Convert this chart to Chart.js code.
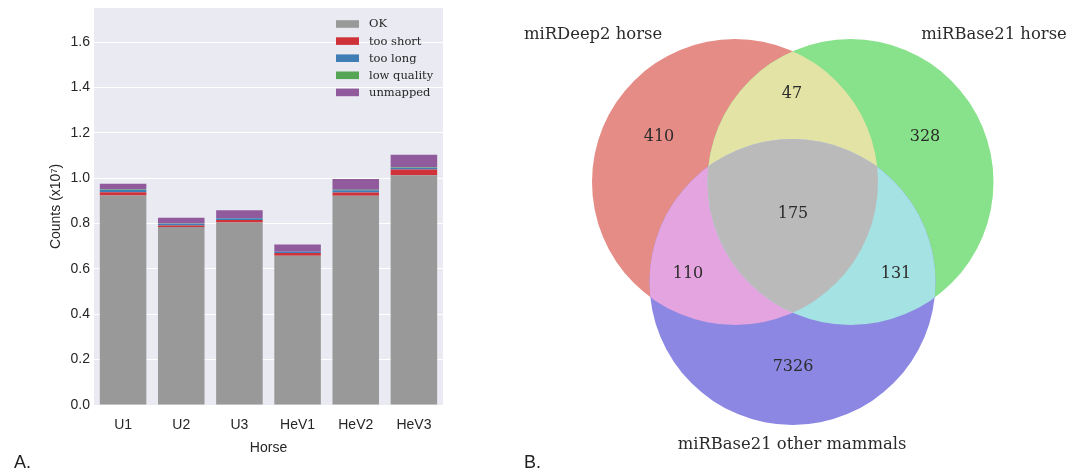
<html>
<head>
<style>
body { margin: 0; background: #fff; width: 1083px; height: 475px; position: relative; overflow: hidden; }
canvas { position: absolute; top: 0; }
.panel { position: absolute; font-family: "Liberation Sans", sans-serif; font-size: 18px; color: #222; }
</style>
</head>
<body>
<script src="https://cdn.jsdelivr.net/npm/chart.js@4/dist/chart.umd.min.js"></script>
<canvas id="barChart" width="460" height="475" style="left:0"></canvas>
<canvas id="vennChart" width="583" height="475" style="left:500px"></canvas>
<div class="panel" style="left:14px; top:452px">A.</div>
<div class="panel" style="left:524px; top:452px">B.</div>
<script>
// panel A: read counts per horse (x10^7)
const horses = ['U1', 'U2', 'U3', 'HeV1', 'HeV2', 'HeV3'];
const okCounts = [0.924, 0.785, 0.805, 0.658, 0.922, 1.013];
const tooShort = [0.014, 0.006, 0.011, 0.012, 0.015, 0.025];
const tooLong = [0.011, 0.008, 0.007, 0.005, 0.010, 0.008];
const lowQuality = [0.002, 0.001, 0.001, 0.001, 0.002, 0.002];
const unmapped = [0.024, 0.025, 0.034, 0.032, 0.047, 0.055];

// panel B: venn counts
const vennSets = ['miRDeep2 horse', 'miRBase21 horse', 'miRBase21 other mammals'];
const vennRegions = ['A', 'B', 'AB', 'C', 'AC', 'BC', 'ABC'];
const vennCounts = [410, 328, 47, 7326, 110, 131, 175];

const sansFont = '"Liberation Sans", Arial, sans-serif';
const serifFont = '"DejaVu Serif", serif';

let bgPlugin = {
    id: 'bg',
    beforeDraw(chart) {
        let a = chart.chartArea, ctx = chart.ctx;
        ctx.save();
        ctx.fillStyle = '#eaeaf2';
        ctx.fillRect(a.left, a.top, a.right - a.left, a.bottom - a.top);
        ctx.restore();
    }
};

// legend drawn inside the plot, top right
let boxLegend = {
    id: 'boxLegend',
    afterDraw(chart) {
        let ctx = chart.ctx;
        ctx.save();
        ctx.font = '11.5px ' + serifFont;
        ctx.textBaseline = 'middle';
        chart.data.datasets.forEach((ds, i) => {
            let y = 24 + i * 17.1;
            ctx.fillStyle = ds.backgroundColor;
            ctx.fillRect(336, y - 3.8, 23, 7.6);
            ctx.fillStyle = '#262626';
            ctx.fillText(ds.label, 369, y + 0.5);
        });
        ctx.restore();
    }
};

new Chart(document.getElementById('barChart'), {
    type: 'bar',
    data: {
        labels: horses,
        datasets: [
            { label: 'OK', data: okCounts, backgroundColor: '#999999' },
            { label: 'too short', data: tooShort, backgroundColor: '#cf3339' },
            { label: 'too long', data: tooLong, backgroundColor: '#3f7eb4' },
            { label: 'low quality', data: lowQuality, backgroundColor: '#56a456' },
            { label: 'unmapped', data: unmapped, backgroundColor: '#915a9c' }
        ]
    },
    options: {
        responsive: false,
        animation: false,
        barPercentage: 0.8,
        categoryPercentage: 1.0,
        layout: { padding: { top: 8, right: 17, bottom: 10, left: 0 } },
        plugins: { legend: { display: false }, tooltip: { enabled: false } },
        scales: {
            x: {
                stacked: true,
                grid: { display: false },
                border: { display: false },
                ticks: { color: '#262626', font: { family: sansFont, size: 14 }, padding: 4 },
                title: { display: true, text: 'Horse', color: '#262626',
                         font: { family: sansFont, size: 14 }, padding: { top: 0, bottom: 8 } },
                afterFit: s => { s.height = 60; s.paddingLeft = 0; s.paddingRight = 0; }
            },
            y: {
                stacked: true,
                min: 0,
                max: 1.75,
                grid: { color: '#ffffff', lineWidth: 1, drawTicks: false },
                border: { display: false },
                afterBuildTicks: s => {
                    s.ticks = s.ticks.filter(t => Math.abs(t.value * 5 - Math.round(t.value * 5)) < 1e-6);
                },
                ticks: {
                    stepSize: 0.2,
                    padding: 4,
                    color: '#262626',
                    font: { family: sansFont, size: 14 },
                    callback: v => v.toFixed(1)
                },
                title: { display: true, text: 'Counts (x10\u2077)', color: '#262626',
                         font: { family: sansFont, size: 14 }, padding: { top: 47.6, bottom: 0 } },
                afterFit: s => { s.width = 94; s.paddingTop = 0; s.paddingBottom = 0; }
            }
        }
    },
    plugins: [bgPlugin, boxLegend]
});

// venn layout (chart units = canvas px)
const circleR = 143;
const circleCenters = [[235, 182], [350.5, 182], [292.5, 282]];
const regionColors = {
    A: '#e48c85', B: '#88e28b', C: '#8b87e3',
    AB: '#e2e3a4', AC: '#e4a4e0', BC: '#a4e2e3', ABC: '#bababa'
};
const countSpots = [[159, 137], [425, 137], [292, 94], [293, 367], [188, 274], [396, 274], [293, 214]];
const nameSpots = [[93, 35], [494, 35], [292, 445]];

let vennPlugin = {
    id: 'venn',
    beforeDatasetsDraw(chart) {
        let ctx = chart.ctx, xs = chart.scales.x, ys = chart.scales.y;
        let r = xs.getPixelForValue(circleR) - xs.getPixelForValue(0);
        let c = circleCenters.map(p => [xs.getPixelForValue(p[0]), ys.getPixelForValue(p[1])]);
        let circ = i => { ctx.beginPath(); ctx.arc(c[i][0], c[i][1], r, 0, Math.PI * 2); };
        let region = (clips, fillIdx, color) => {
            ctx.save();
            clips.forEach(i => { circ(i); ctx.clip(); });
            circ(fillIdx);
            ctx.fillStyle = color;
            ctx.fill();
            ctx.restore();
        };
        region([], 0, regionColors.A);
        region([], 1, regionColors.B);
        region([], 2, regionColors.C);
        region([0], 1, regionColors.AB);
        region([0], 2, regionColors.AC);
        region([1], 2, regionColors.BC);
        region([0, 1], 2, regionColors.ABC);
    },
    afterDatasetsDraw(chart) {
        let ctx = chart.ctx;
        ctx.save();
        ctx.textAlign = 'center';
        ctx.textBaseline = 'middle';
        ctx.fillStyle = '#2b2b2b';
        ctx.font = '16px ' + serifFont;
        chart.getDatasetMeta(0).data.forEach((pt, i) => {
            ctx.fillText(String(vennCounts[i]), pt.x, pt.y);
        });
        ctx.font = '16.4px ' + serifFont;
        chart.getDatasetMeta(1).data.forEach((pt, i) => {
            ctx.fillText(vennSets[i], pt.x, pt.y);
        });
        ctx.restore();
    }
};

new Chart(document.getElementById('vennChart'), {
    type: 'scatter',
    data: {
        datasets: [
            { label: 'counts', data: countSpots.map((p, i) => ({ x: p[0], y: p[1], region: vennRegions[i] })), pointRadius: 0 },
            { label: 'sets', data: nameSpots.map(p => ({ x: p[0], y: p[1] })), pointRadius: 0 }
        ]
    },
    options: {
        responsive: false,
        animation: false,
        layout: { padding: 0 },
        plugins: { legend: { display: false }, tooltip: { enabled: false } },
        scales: {
            x: { type: 'linear', min: 0, max: 583, display: false },
            y: { type: 'linear', min: 0, max: 475, reverse: true, display: false }
        }
    },
    plugins: [vennPlugin]
});
</script>
</body>
</html>
